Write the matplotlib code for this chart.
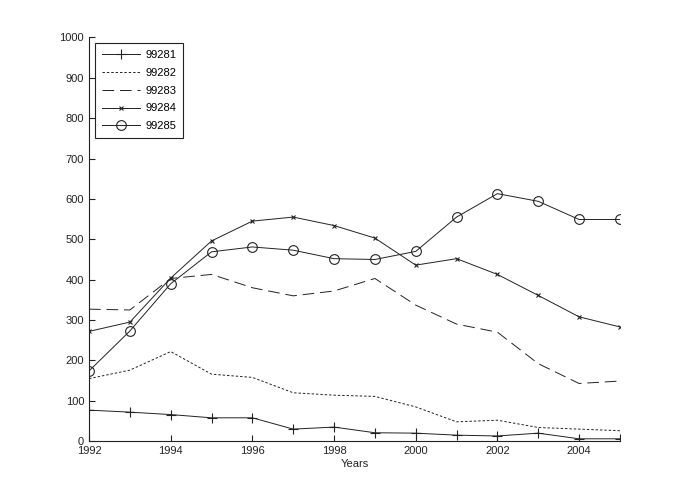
import matplotlib
matplotlib.use("Agg")
import matplotlib.pyplot as plt

years = list(range(1992, 2006))
s99281 = [77, 72, 66, 58, 58, 30, 35, 21, 20, 15, 13, 20, 6, 6]
s99282 = [155, 176, 222, 166, 158, 120, 114, 111, 85, 48, 52, 34, 30, 26]
s99283 = [327, 325, 403, 413, 380, 360, 372, 403, 337, 290, 270, 192, 143, 149]
s99284 = [272, 295, 404, 496, 545, 555, 534, 503, 436, 452, 413, 361, 308, 283]
s99285 = [174, 273, 390, 469, 481, 473, 452, 450, 470, 555, 613, 594, 549, 549]
labels = ["99281", "99282", "99283", "99284", "99285"]

plt.rcParams['font.family'] = ['Liberation Sans', 'DejaVu Sans']
fig = plt.figure(figsize=(6.85, 4.98), dpi=100)
ax = fig.add_axes([0.13, 0.114, 0.775, 0.811])

lw = 0.7
col = '#222222'
ax.plot(years, s99281, color=col, lw=lw, marker='+', ms=7, mew=0.8, label=labels[0])
ax.plot(years, s99282, color=col, lw=lw, ls=(0, (2.5, 2)), label=labels[1])
ax.plot(years, s99283, color=col, lw=lw, ls=(0, (12, 6)), label=labels[2])
ax.plot(years, s99284, color=col, lw=lw, marker='x', ms=3.5, mew=0.8, label=labels[3])
ax.plot(years, s99285, color=col, lw=lw, marker='o', ms=7, mfc='none', mew=0.8, label=labels[4])

ax.set_xlim(1992, 2005)
ax.set_ylim(0, 1000)
ax.set_xticks(range(1992, 2005, 2))
ax.set_yticks(range(0, 1001, 100))
ax.tick_params(direction='in', labelsize=8, length=4, width=0.8, colors='#222222')
ax.spines['top'].set_visible(False)
ax.spines['right'].set_visible(False)
for s in ['left', 'bottom']:
    ax.spines[s].set_linewidth(0.8)
    ax.spines[s].set_color('#222222')
ax.set_xlabel("Years", fontsize=8, labelpad=2, color='#222222')

leg = ax.legend(loc='upper left', fontsize=8, numpoints=1, fancybox=False,
                edgecolor='#222222', framealpha=1, handlelength=3.4,
                borderaxespad=0.55, borderpad=0.6, labelspacing=0.7, handletextpad=0.5)
leg.get_frame().set_linewidth(0.8)

fig.savefig("out.png", dpi=100)
